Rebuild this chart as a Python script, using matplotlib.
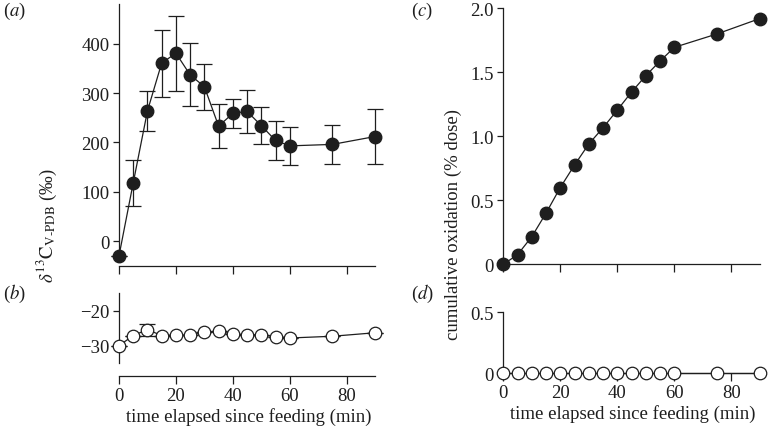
import matplotlib
matplotlib.use("Agg")
import matplotlib.pyplot as plt

plt.rcParams['font.family'] = ['Liberation Serif', 'DejaVu Serif']
plt.rcParams['mathtext.fontset'] = 'stix'

# ---- data ----
time = [0, 5, 10, 15, 20, 25, 30, 35, 40, 45, 50, 55, 60, 75, 90]
delta_breath = [-30, 118, 264, 361, 381, 337, 313, 233, 259, 263, 234, 204, 193, 196, 212]
delta_err = [0, 47, 41, 68, 76, 64, 47, 44, 29, 43, 38, 40, 39, 39, 55]
delta_ctrl = [-30, -27.1, -25.4, -27.1, -27.0, -27.0, -26.2, -25.9, -26.7, -26.9, -26.9, -27.4, -27.8, -27.3, -26.3]
delta_ctrl_err = [0, 0, 1.7, 0, 0, 0, 0, 0, 0, 0, 0, 0, 0, 0, 0]
cum_ox = [0, 0.075, 0.216, 0.40, 0.60, 0.776, 0.94, 1.067, 1.205, 1.346, 1.474, 1.588, 1.695, 1.80, 1.92]
cum_ox_ctrl = [0] * 15

xticks = [0, 20, 40, 60, 80]
yticks_a = [0, 100, 200, 300, 400]
yticks_b = [-30, -20]
yticks_c = [0, 0.5, 1.0, 1.5, 2.0]
yticklabels_c = ['0', '0.5', '1.0', '1.5', '2.0']
yticks_d = [0, 0.5]
yticklabels_d = ['0', '0.5']

W, H = 768, 431
fig = plt.figure(figsize=(W / 100, H / 100), dpi=100)

def ax_px(l, t, r, b):
    return fig.add_axes([l / W, 1 - b / H, (r - l) / W, (b - t) / H])

C = '#1e1e1e'
FS = 13.5
MS = 9

def style(ax, xlabels, offset_pts):
    for s in ['top', 'right']:
        ax.spines[s].set_visible(False)
    for s in ['left', 'bottom']:
        ax.spines[s].set_color(C)
        ax.spines[s].set_linewidth(0.9)
    ax.spines['bottom'].set_position(('outward', offset_pts))
    ax.spines['bottom'].set_bounds(0, 90)
    ax.set_xlim(0, 91)
    ax.set_xticks(xticks)
    if not xlabels:
        ax.set_xticklabels([])
    ax.tick_params(axis='x', direction='out', length=6, width=0.9, color=C,
                   labelsize=FS, pad=2, labelcolor=C)
    ax.tick_params(axis='y', direction='out', length=4.5, width=0.9, color=C,
                   labelsize=FS, pad=2.5, labelcolor=C)
    ax.patch.set_visible(False)

# (a)
axa = ax_px(119, 5.4, 378, 256.8)
axa.set_ylim(-30, 480)
axa.errorbar(time, delta_breath, yerr=delta_err, fmt='-o', color=C, mfc=C, mec=C,
             ms=MS, lw=0.9, elinewidth=0.9, capsize=5.8, capthick=0.9, clip_on=False, zorder=3)
axa.set_yticks(yticks_a)
style(axa, False, 7.5)

# (b)
axb = ax_px(119, 294.2, 378, 364.2)
axb.set_ylim(-35, -15)
axb.errorbar(time, delta_ctrl, yerr=delta_ctrl_err, fmt='-o', color=C, mfc='white', mec=C,
             ms=MS, mew=0.9, lw=0.9, elinewidth=0.9, capsize=5.8, capthick=0.9, clip_on=False, zorder=3)
axb.set_yticks(yticks_b)
style(axb, True, 9)
axb.set_xlabel('time elapsed since feeding (min)', fontsize=FS, color=C, labelpad=2)

# (c)
axc = ax_px(503.3, 9.3, 762.7, 265.3)
axc.set_ylim(0, 2.0)
axc.plot(time, cum_ox, '-o', color=C, mfc=C, mec=C, ms=MS, lw=0.9, clip_on=False, zorder=3)
axc.set_yticks(yticks_c)
axc.set_yticklabels(yticklabels_c)
style(axc, False, 0)

# (d)
axd = ax_px(503.3, 313.3, 762.7, 374.3)
axd.set_ylim(0, 0.5)
axd.plot(time, cum_ox_ctrl, '-o', color=C, mfc='white', mec=C, ms=MS, mew=0.9, lw=0.9,
         clip_on=False, zorder=3)
axd.set_yticks(yticks_d)
axd.set_yticklabels(yticklabels_d)
style(axd, True, 0)
axd.set_xlabel('time elapsed since feeding (min)', fontsize=FS, color=C, labelpad=2)

# axis labels spanning panels
fig.text(47 / W, 1 - 226 / H, r'$\delta^{13}\mathrm{C}_{\mathrm{V\text{-}PDB}}$ (‰)',
         rotation=90, ha='center', va='center', fontsize=FS, color=C)
fig.text(453 / W, 1 - 224 / H, 'cumulative oxidation (% dose)',
         rotation=90, ha='center', va='center', fontsize=FS, color=C)

# panel labels
for lab, x, y in [('a', 3, 11), ('b', 3, 294), ('c', 411, 11), ('d', 411, 294)]:
    fig.text(x / W, 1 - y / H, '(' + r'$\it{' + lab + '}$' + ')', ha='left', va='center',
             fontsize=FS, color=C)

fig.savefig('out.png', dpi=100)
